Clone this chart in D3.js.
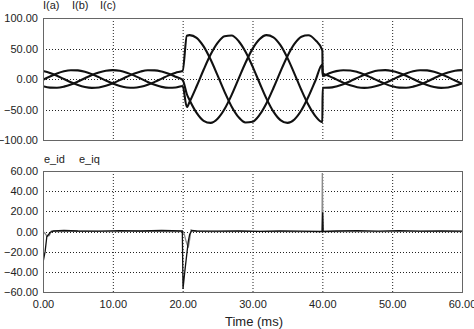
<!DOCTYPE html>
<html><head><meta charset="utf-8">
<script src="https://cdn.jsdelivr.net/npm/d3@7"></script>
<style>
body{margin:0;background:#fff;}
svg{display:block;font-family:"Liberation Sans",Arial,sans-serif;}
</style></head>
<body>
<svg id="c" width="474" height="329"></svg>
<script>
// ---- data (time in ms) ----
const time = [0,1,2,3,4,5,6,7,8,9,10,11,12,13,14,15,16,17,18,19,20,
  20.6,21,22,23,24,25,26,27,28,29,30,31,32,33,34,35,36,37,38,39,40,
  40.05,41,42,43,44,45,46,47,48,49,50,51,52,53,54,55,56,57,58,59,60];
const Ia = [-1.2,4.2,9.0,12.6,14.4,14.1,11.9,8.0,3.0,-2.5,-7.5,-11.6,-14.0,-14.4,-12.8,-9.5,-4.7,0.6,5.9,10.4,13.4,
  71.0,72.0,67.5,53.4,31.9,5.9,-21.0,-44.9,-62.4,-71.3,-70.1,-59.0,-39.7,-14.8,12.2,37.4,57.5,69.4,71.6,63.7,46.9,
  9.5,4.7,-0.6,-5.9,-10.4,-13.4,-14.5,-13.6,-10.8,-6.4,-1.2,4.2,9.0,12.6,14.4,14.1,11.9,8.0,3.0,-2.5,-7.5];
const Ib = [-11.9,-14.1,-14.3,-12.5,-9.0,-4.2,1.2,6.5,10.8,13.6,14.5,13.4,10.3,5.9,0.6,-4.8,-9.5,-12.9,-14.4,-14.0,-11.5,
  -46.0,-37.2,-11.9,15.1,40.0,59.2,70.1,71.2,62.3,44.6,20.7,-6.2,-32.2,-53.6,-67.5,-72.0,-66.3,-51.3,-29.2,-2.9,23.8,
  4.8,9.5,12.9,14.4,14.0,11.5,7.5,2.4,-3.0,-8.0,-11.9,-14.1,-14.3,-12.5,-9.0,-4.2,1.2,6.5,10.8,13.6,14.5];
const Ic = [13.1,9.9,5.3,0.0,-5.4,-9.9,-13.1,-14.5,-13.8,-11.2,-7.0,-1.8,3.6,8.5,12.3,14.3,14.2,12.2,8.5,3.6,-1.8,
  -25.0,-34.8,-55.6,-68.5,-71.9,-65.1,-49.2,-26.4,0.1,26.6,49.4,65.2,71.9,68.4,55.4,34.6,8.9,-18.1,-42.4,-60.8,-70.8,
  -14.3,-14.2,-12.2,-8.5,-3.6,1.8,7.0,11.2,13.8,14.5,13.1,9.9,5.3,0.0,-5.4,-9.9,-13.1,-14.5,-13.8,-11.2,-7.0];

const tId = [0,0.05,0.3,0.55,0.8,1.0,1.5,3,5,8,11,14,17,19.95,20.05,20.3,20.6,20.8,21.0,21.3,22,25,28,31,34,37,39.98,40.05,40.12,42,45,48,51,54,57,60];
const eId = [0,-29,-20,-5,-3,-1,0.5,1,0.5,0.3,0.8,0.5,1,0.5,-57,-40,-22,-10,-3,1,0.5,0.3,0.5,0.2,0.5,0.3,0,19,0,0.5,0.8,0.3,0.8,0.3,0.6,0.3];
const tIq = [0,0.3,0.6,0.9,1.2,2,6,10,14,18,20.0,20.2,20.5,20.8,20.95,21.2,21.5,24,30,36,39.95,40.0,40.08,42,48,54,60];
const eIq = [0,-2,-5,-4,0.5,0,0.3,-0.2,0.3,0,0,-2,-10,-16,-10,1.5,0.3,0,0.2,-0.2,0,58,0,0.2,-0.2,0.2,0];

const xTicks = [0,10,20,30,40,50,60];
const topTicks = [-100,-50,0,50,100];
const botTicks = [-60,-40,-20,0,20,40,60];
const topLabels = ["I(a)","I(b)","I(c)"];
const botLabels = ["e_id","e_iq"];

// ---- drawing ----
const svg = d3.select("#c");
const x = d3.scaleLinear().domain([0,60]).range([43,462]);
const yT = d3.scaleLinear().domain([-100,100]).range([140,18]);
const yB = d3.scaleLinear().domain([-60,60]).range([292,171]);

function panel(y, ticks, id){
  const g = svg.append("g");
  const [y0,y1] = y.range();
  g.append("rect").attr("x",x(0)).attr("y",y1).attr("width",x(60)-x(0)).attr("height",y0-y1)
    .attr("fill","#fff");
  // grid
  g.selectAll(".gx").data(xTicks.slice(1,-1)).join("line")
    .attr("x1",d=>x(d)+0.5).attr("x2",d=>x(d)+0.5).attr("y1",y1).attr("y2",y0)
    .attr("stroke","#222").attr("stroke-width",1).attr("stroke-dasharray","1,2");
  g.selectAll(".gy").data(ticks.slice(1,-1)).join("line")
    .attr("x1",x(0)).attr("x2",x(60)).attr("y1",d=>Math.round(y(d))+0.5).attr("y2",d=>Math.round(y(d))+0.5)
    .attr("stroke","#222").attr("stroke-width",1).attr("stroke-dasharray","1,2");
  svg.append("clipPath").attr("id",id).append("rect")
    .attr("x",x(0)).attr("y",y1).attr("width",x(60)-x(0)).attr("height",y0-y1);
  // y axis labels
  const ax = svg.append("g").attr("transform",`translate(${x(0)},0)`)
    .call(d3.axisLeft(y).tickValues(ticks).tickFormat(d3.format(".2f")).tickSize(0).tickPadding(5));
  ax.select(".domain").remove();
  ax.selectAll("text").attr("font-size",11).attr("fill","#222").attr("font-family","Liberation Sans, Arial, sans-serif");
  return g;
}

panel(yT, topTicks, "clipT");
panel(yB, botTicks, "clipB");

// top curves
const lineT = d3.line().x(d=>x(d[0])).y(d=>yT(d[1])).curve(d3.curveMonotoneX);
[Ia,Ib,Ic].forEach(s=>{
  svg.append("path").attr("clip-path","url(#clipT)")
    .attr("d", lineT(time.map((t,i)=>[t,s[i]])))
    .attr("fill","none").attr("stroke","#111").attr("stroke-width",2.1).attr("stroke-linejoin","round");
});

// bottom curves
const lineB = d3.line().x(d=>x(d[0])).y(d=>yB(d[1]));
svg.append("path").attr("clip-path","url(#clipB)")
  .attr("d", lineB(tIq.map((t,i)=>[t,eIq[i]])))
  .attr("fill","none").attr("stroke","#8a8a8a").attr("stroke-width",1.3);
svg.append("path").attr("clip-path","url(#clipB)")
  .attr("d", lineB(tId.map((t,i)=>[t,eId[i]])))
  .attr("fill","none").attr("stroke","#111").attr("stroke-width",1.3);

// frames
[yT,yB].forEach(y=>{
  const [y0,y1]=y.range();
  svg.append("rect").attr("x",x(0)+0.5).attr("y",y1+0.5).attr("width",x(60)-x(0)).attr("height",y0-y1)
    .attr("fill","none").attr("stroke","#666").attr("stroke-width",1);
});

// x axis labels
const xa = svg.append("g").attr("transform",`translate(0,${yB(-60)})`)
  .call(d3.axisBottom(x).tickValues(xTicks).tickFormat(d3.format(".2f")).tickSize(0).tickPadding(8));
xa.select(".domain").remove();
xa.selectAll("text").attr("font-size",11).attr("fill","#222").attr("font-family","Liberation Sans, Arial, sans-serif");

svg.append("text").attr("x",254).attr("y",326).attr("text-anchor","middle")
  .attr("font-size",13).attr("fill","#222").text("Time (ms)");

// series labels
const tlx = [43,72,100];
topLabels.forEach((s,i)=>svg.append("text").attr("x",tlx[i]).attr("y",9).attr("font-size",11).attr("fill","#222").text(s));
const blx = [44,79];
botLabels.forEach((s,i)=>svg.append("text").attr("x",blx[i]).attr("y",163).attr("font-size",11).attr("fill","#222").text(s));
</script>
</body></html>
